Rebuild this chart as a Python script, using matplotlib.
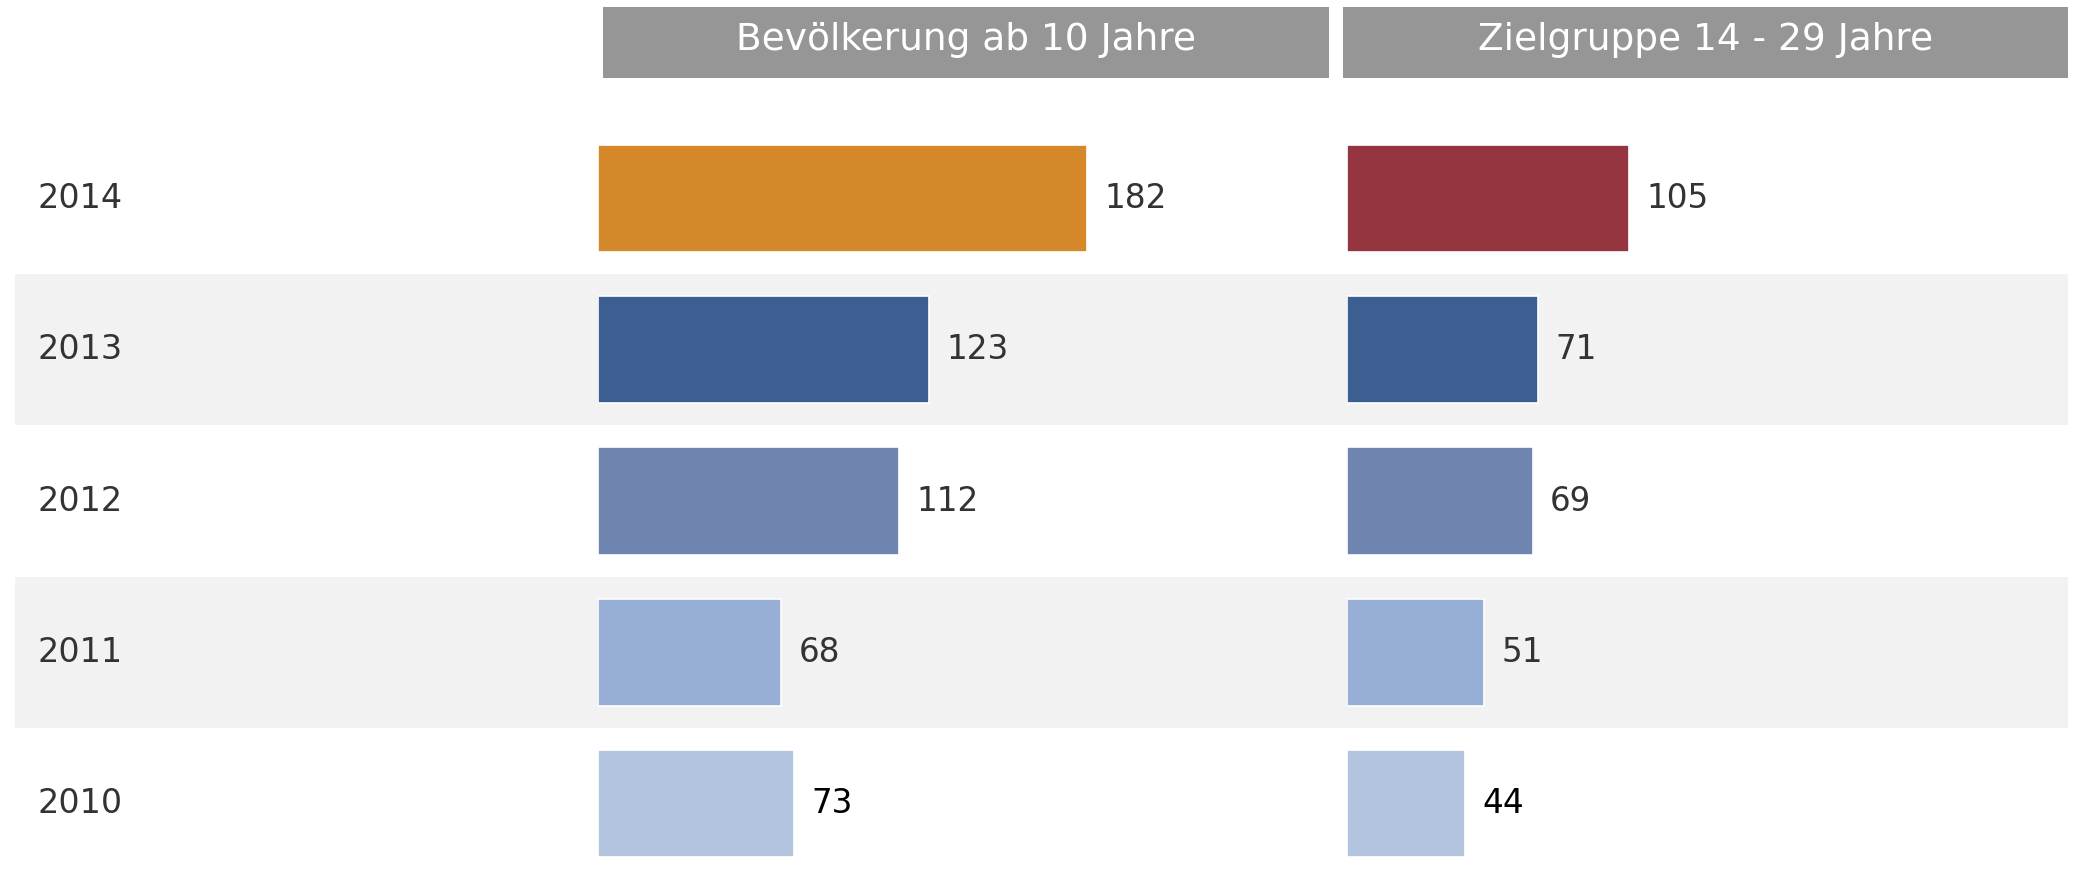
import matplotlib
matplotlib.use("Agg")
import matplotlib.pyplot as plt

years = ["2014", "2013", "2012", "2011", "2010"]
pop_10plus = [182, 123, 112, 68, 73]
target_14_29 = [105, 71, 69, 51, 44]
headers = ["Bevölkerung ab 10 Jahre", "Zielgruppe 14 - 29 Jahre"]

left_colors = ["#D4882A", "#3D5E91", "#6F84AE", "#97AFD4", "#B3C4DF"]
right_colors = ["#94353F", "#3D5E91", "#6F84AE", "#97AFD4", "#B3C4DF"]
label_colors = ["#333333", "#333333", "#333333", "#333333", "#000000"]

W, H = 2075, 873
fig = plt.figure(figsize=(W / 100, H / 100), dpi=100)
plt.rcParams["font.family"] = ["DejaVu Sans"]

def frac(x0, y0, x1, y1):
    # pixel box (top-left origin) -> figure fraction rect
    return [x0 / W, 1 - y1 / H, (x1 - x0) / W, (y1 - y0) / H]

n = len(years)
ylim = (n - 0.5, -0.5)
top, bot = 123, 879

# background bands + year labels
bg = fig.add_axes(frac(14.5, top, 2068, bot))
bg.set_xlim(0, 1); bg.set_ylim(*ylim)
for i in range(n):
    if i % 2 == 1:
        bg.axhspan(i - 0.5, i + 0.5, color="#F2F2F2", lw=0)
    bg.text(0.011, i, years[i], va="center", ha="left", fontsize=24, color="#333333")
bg.axis("off")

xmax = 270
panels = [(598, pop_10plus, left_colors, 603, 1329),
          (1347, target_14_29, right_colors, 1343, 2068)]
for (x0, vals, cols, hx0, hx1), title in zip(panels, headers):
    ax = fig.add_axes(frac(x0, top, x0 + 726, bot))
    ax.patch.set_alpha(0)
    ax.barh(range(n), vals, height=0.71, color=cols, edgecolor="white", linewidth=1.2)
    for i, v in enumerate(vals):
        ax.text(v + 6.5, i, str(v), va="center", ha="left", fontsize=23.5, color=label_colors[i])
    ax.set_xlim(0, xmax); ax.set_ylim(*ylim)
    ax.axis("off")

    hax = fig.add_axes(frac(hx0, 7, hx1, 78))
    hax.set_facecolor("#959695")
    hax.set_xticks([]); hax.set_yticks([])
    for s in hax.spines.values():
        s.set_visible(False)
    hax.text(0.5, 0.53, title, ha="center", va="center", fontsize=27, color="white",
             transform=hax.transAxes)

fig.savefig("out.png", dpi=100)
